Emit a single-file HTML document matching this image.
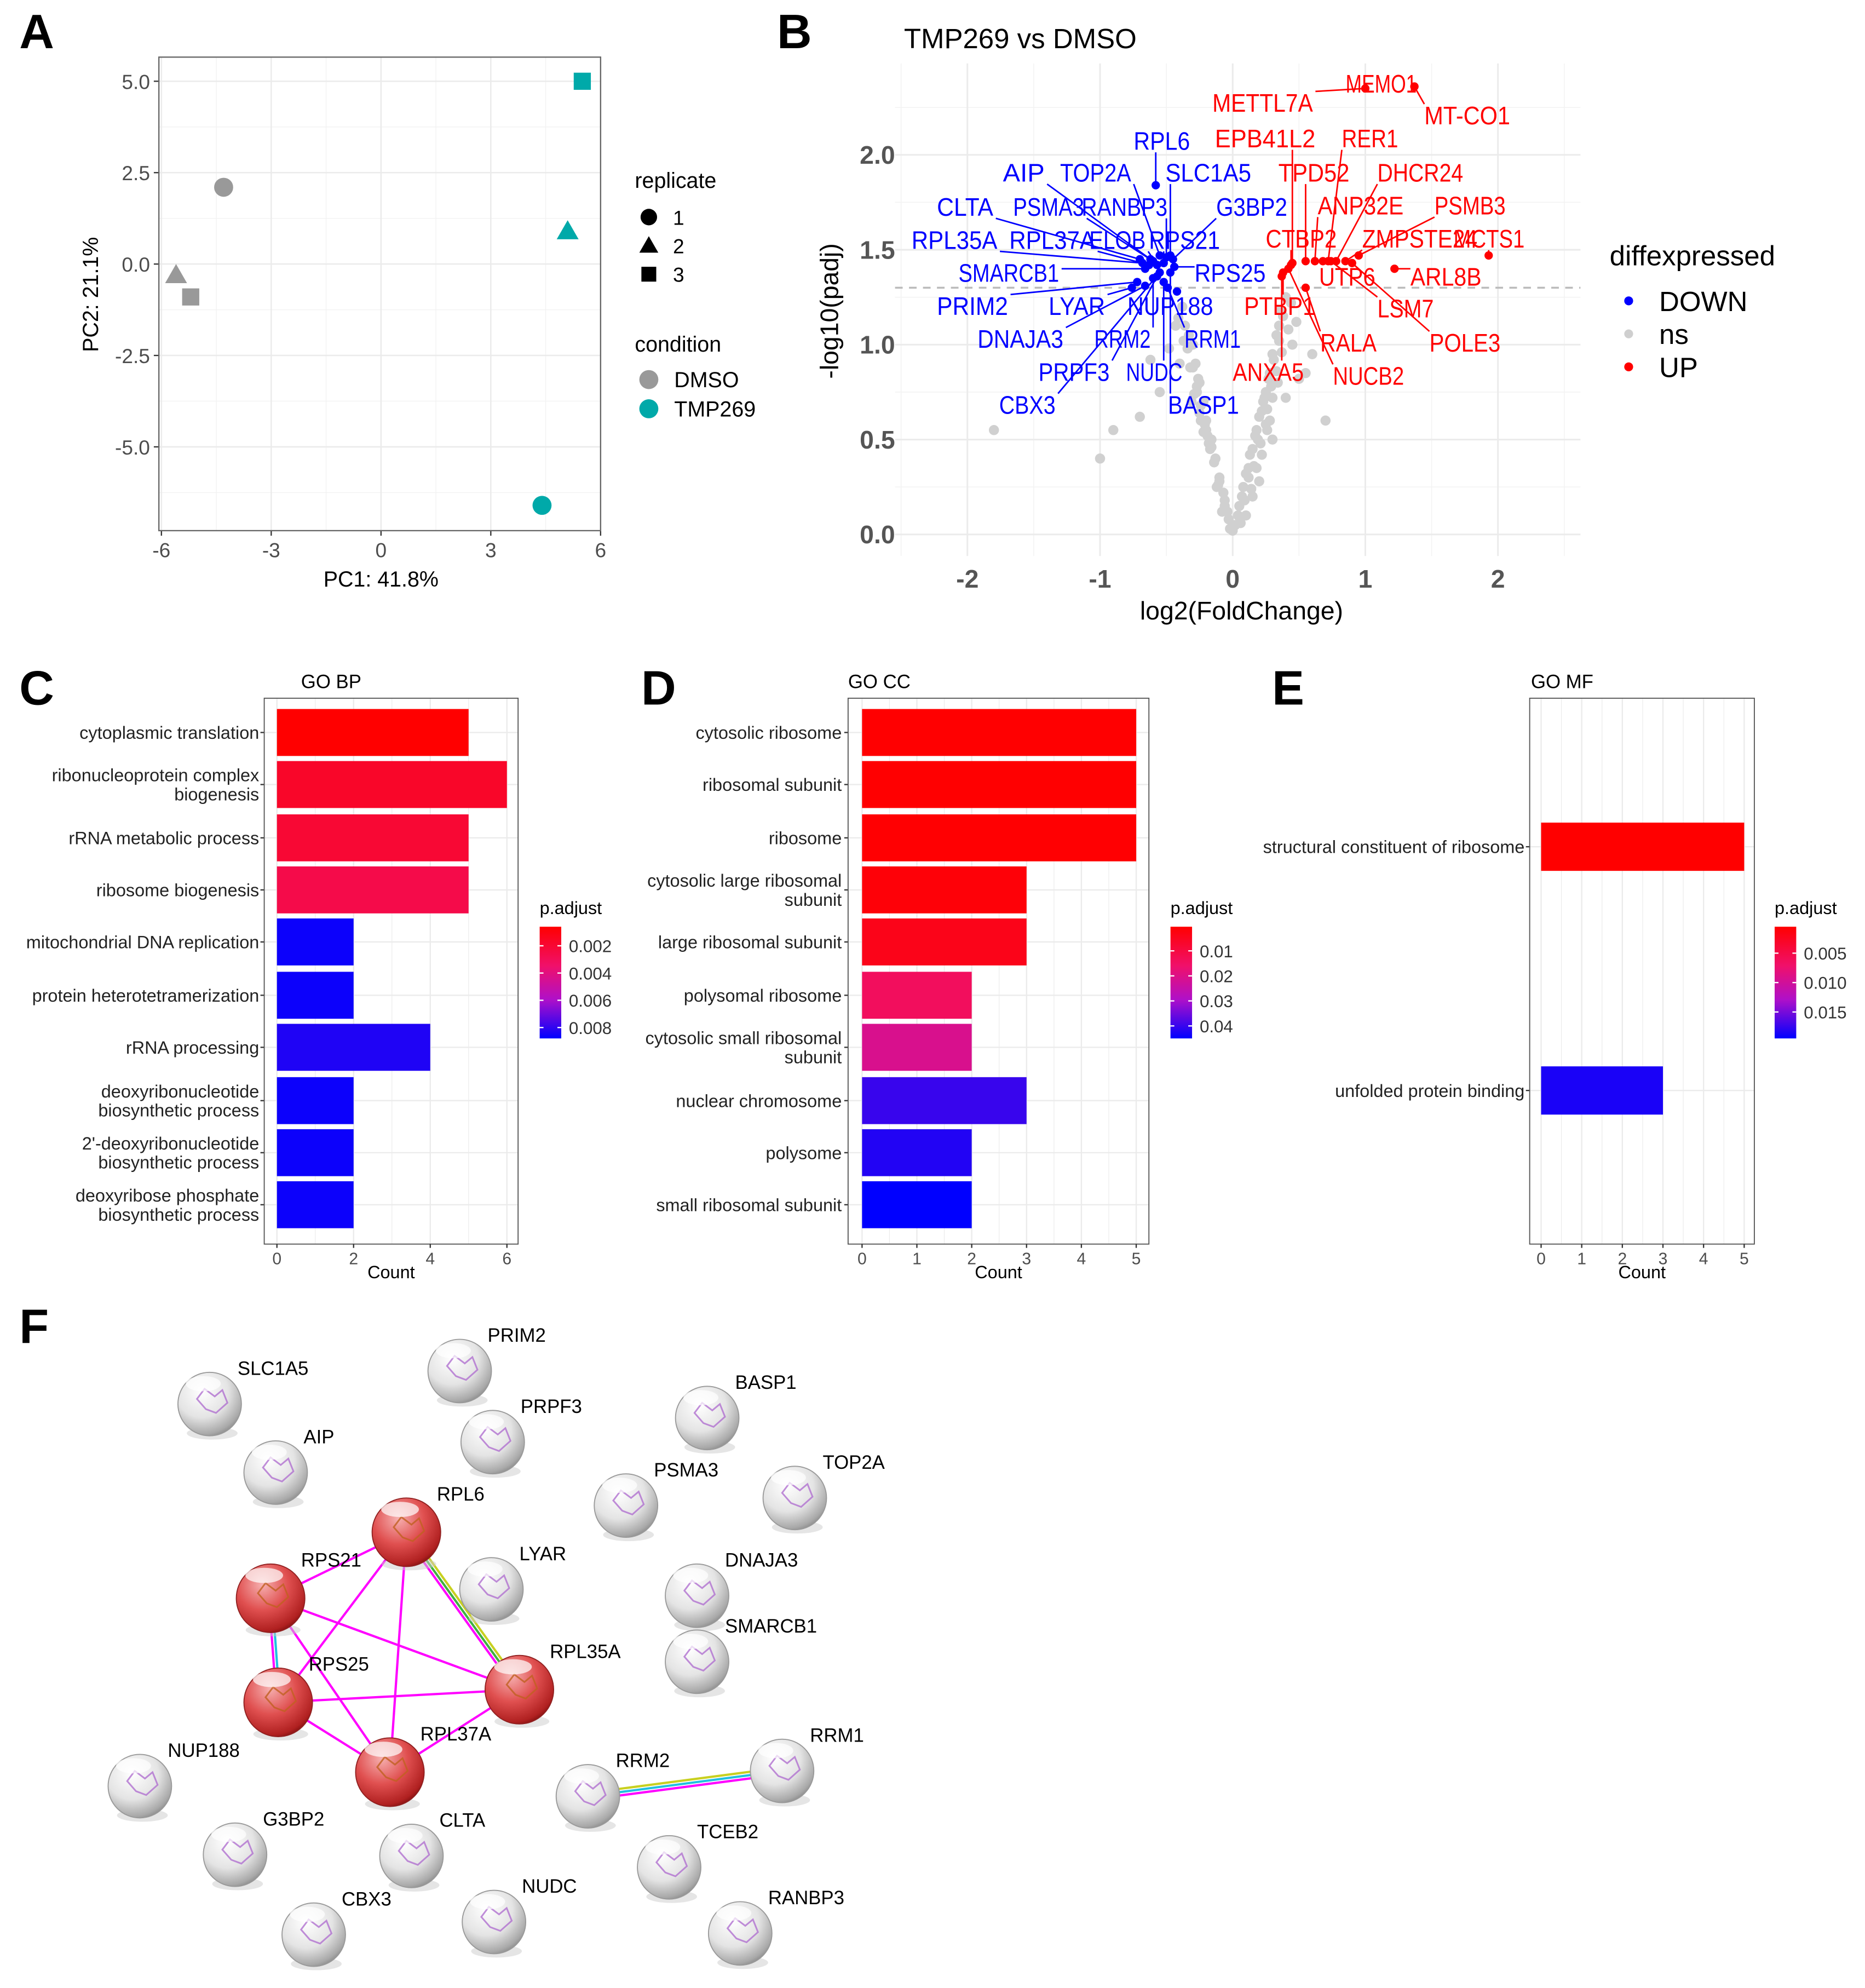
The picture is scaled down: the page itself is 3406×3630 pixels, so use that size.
<!DOCTYPE html>
<html><head><meta charset="utf-8"><style>
html,body{margin:0;padding:0;background:#fff}
svg{display:block}
text{font-family:"Liberation Sans",Arial,sans-serif}
</style></head><body>
<svg id="fig" width="3406" height="3630" viewBox="0 0 1469 1566" xmlns="http://www.w3.org/2000/svg">
<defs>
<radialGradient id="gs" cx="0.38" cy="0.3" r="0.75"><stop offset="0" stop-color="#ffffff"/><stop offset="0.55" stop-color="#e4e4e4"/><stop offset="0.9" stop-color="#a8a8a8"/><stop offset="1" stop-color="#8a8a8a"/></radialGradient>
<radialGradient id="rs" cx="0.38" cy="0.3" r="0.75"><stop offset="0" stop-color="#f6b0b0"/><stop offset="0.5" stop-color="#e05050"/><stop offset="0.9" stop-color="#b02020"/><stop offset="1" stop-color="#801010"/></radialGradient>
<linearGradient id="cbar" x1="0" y1="0" x2="0" y2="1"><stop offset="0" stop-color="#ff0000"/><stop offset="0.35" stop-color="#f0106a"/><stop offset="0.65" stop-color="#b010c8"/><stop offset="1" stop-color="#0000ff"/></linearGradient>
</defs>
<g id="root"></g>
</svg>
<script>
// ---------- DATA ----------
const pcaPC1 = [-4.3, -5.6, -5.2, 5.5, 5.1, 4.4];
const pcaPC2 = [2.1, -0.3, -0.9, 5.0, 0.9, -6.6];
const pcaCond = ["DMSO","DMSO","DMSO","TMP269","TMP269","TMP269"];
const pcaRep = [1,2,3,3,2,1];
const pcaXTicks = [-6,-3,0,3,6];
const pcaYTicks = [5.0,2.5,0.0,-2.5,-5.0];
const downGenes = ["RPL6","AIP","TOP2A","SLC1A5","CLTA","PSMA3","RANBP3","G3BP2","RPL35A","RPL37A","ELOB","RPS21","SMARCB1","RPS25","PRIM2","LYAR","NUP188","DNAJA3","RRM2","RRM1","PRPF3","NUDC","CBX3","BASP1"];
const downLFC = [-0.58,-0.62,-0.55,-0.47,-0.70,-0.60,-0.50,-0.45,-0.68,-0.63,-0.57,-0.52,-0.66,-0.44,-0.72,-0.76,-0.42,-0.66,-0.60,-0.49,-0.57,-0.52,-0.55,-0.47];
const downP = [1.84,1.45,1.47,1.47,1.45,1.44,1.46,1.45,1.43,1.42,1.42,1.43,1.40,1.41,1.33,1.30,1.28,1.31,1.35,1.30,1.36,1.33,1.38,1.38];
const upGenes = ["METTL7A","MEMO1","MT-CO1","EPB41L2","RER1","TPD52","DHCR24","ANP32E","PSMB3","CTBP2","ZMPSTE24","MCTS1","UTP6","ARL8B","PTBP1","LSM7","RALA","POLE3","ANXA5","NUCB2"];
const upLFC = [1.0,1.37,1.37,0.45,0.72,0.55,0.78,0.62,0.95,0.44,0.85,1.93,0.68,1.22,0.38,0.74,0.55,0.90,0.37,0.42];
const upP = [2.35,2.36,2.36,1.43,1.44,1.44,1.44,1.44,1.47,1.42,1.44,1.47,1.44,1.40,1.38,1.44,1.30,1.43,1.36,1.40];
const nsLFC = [0.02,-0.03,0.05,-0.06,0.08,-0.1,0.12,-0.13,0.15,-0.16,0.18,-0.2,0.22,-0.22,0.25,-0.25,0.28,-0.28,0.3,-0.3,0.33,-0.33,0.35,-0.36,0.38,-0.38,0.28,-0.2,0.15,-0.12,0.4,-0.4,0.22,0.3,-0.27,0.1,-0.08,0.45,-0.43,0.18,0.2,-0.17,0.26,-0.24,0.34,-0.31,-0.55,-0.7,-0.9,-1.0,-1.8,0.55,0.6,0.7,-0.62,0.48,0.5,-0.48,0.36,0.4,
 0.0,0.04,-0.04,0.07,-0.07,0.1,-0.1,0.13,-0.14,0.17,-0.18,0.2,-0.21,0.24,-0.24,0.27,-0.27,0.31,-0.32,0.35,-0.34,0.12,-0.16,0.19,-0.23,0.26,-0.29,0.33,-0.26,0.23,0.09,-0.06,0.16,-0.19,0.29,0.37,-0.37,0.42,-0.41,0.44,0.21,-0.25,0.3,-0.3,0.25,-0.22,0.14,-0.11,0.06,-0.02];
const nsP = [0.05,0.08,0.15,0.18,0.25,0.3,0.35,0.4,0.45,0.5,0.55,0.6,0.65,0.7,0.75,0.8,0.85,0.9,0.95,1.0,1.05,1.05,1.1,1.1,1.15,1.2,0.6,0.55,0.2,0.25,1.25,0.9,0.42,0.5,0.75,0.1,0.12,1.0,1.1,0.35,0.28,0.45,0.55,0.6,0.8,0.7,0.75,0.62,0.55,0.4,0.55,0.85,0.95,0.6,0.92,1.12,0.82,0.98,1.18,0.72,
 0.02,0.1,0.12,0.2,0.22,0.32,0.28,0.42,0.38,0.52,0.48,0.62,0.58,0.72,0.68,0.82,0.78,0.92,0.88,1.02,0.98,0.3,0.46,0.5,0.6,0.66,0.74,0.86,0.82,0.7,0.18,0.15,0.36,0.52,0.78,0.96,1.02,1.08,1.14,1.22,0.48,0.64,0.72,0.88,0.58,0.54,0.24,0.26,0.06,0.03];
const volXTicks = [-2,-1,0,1,2];
const volYTicks = [0.0,0.5,1.0,1.5,2.0];
const bpTerms = [["cytoplasmic translation"],["ribonucleoprotein complex","biogenesis"],["rRNA metabolic process"],["ribosome biogenesis"],["mitochondrial DNA replication"],["protein heterotetramerization"],["rRNA processing"],["deoxyribonucleotide","biosynthetic process"],["2'-deoxyribonucleotide","biosynthetic process"],["deoxyribose phosphate","biosynthetic process"]];
const bpCount = [5,6,5,5,2,2,4,2,2,2];
const bpPadj = [0.0006,0.0017,0.0020,0.0026,0.0086,0.0086,0.0083,0.0086,0.0086,0.0086];
const bpTicks = [0,2,4,6];
const bpLegend = [0.002,0.004,0.006,0.008];
const ccTerms = [["cytosolic ribosome"],["ribosomal subunit"],["ribosome"],["cytosolic large ribosomal","subunit"],["large ribosomal subunit"],["polysomal ribosome"],["cytosolic small ribosomal","subunit"],["nuclear chromosome"],["polysome"],["small ribosomal subunit"]];
const ccCount = [5,5,5,3,3,2,2,3,2,2];
const ccPadj = [0.0005,0.0005,0.0006,0.0015,0.004,0.014,0.021,0.040,0.042,0.045];
const ccTicks = [0,1,2,3,4,5];
const ccLegend = [0.01,0.02,0.03,0.04];
const mfTerms = [["structural constituent of ribosome"],["unfolded protein binding"]];
const mfCount = [5,3];
const mfPadj = [0.0005,0.0185];
const mfTicks = [0,1,2,3,4,5];
const mfLegend = [0.005,0.010,0.015];
const netNodes = ["SLC1A5","AIP","PRIM2","PRPF3","BASP1","TOP2A","PSMA3","RPL6","LYAR","RPS21","DNAJA3","SMARCB1","RPL35A","RPS25","RPL37A","NUP188","RRM2","RRM1","G3BP2","CLTA","TCEB2","NUDC","CBX3","RANBP3"];
const netRed = ["RPL6","RPS21","RPL35A","RPS25","RPL37A"];
const netEdges = [["RPL6","RPS21"],["RPL6","RPS25"],["RPL6","RPL35A"],["RPL6","RPL37A"],["RPS21","RPS25"],["RPS21","RPL35A"],["RPS21","RPL37A"],["RPS25","RPL35A"],["RPS25","RPL37A"],["RPL35A","RPL37A"],["RRM2","RRM1"]];

// ---------- LAYOUT ----------
const downLabelPos = [[893,118],[790,143],[835,143],[918,143],[738,170],[798,170],[852,170],[958,170],[718,196],[795,196],[858,196],[905,196],[755,222],[941,222],[738,248],[826,248],[888,248],[770,274],[862,274],[933,274],[818,300],[887,300],[787,326],[920,326]];
const upLabelPos = [[955,88],[1060,73],[1122,98],[957,116],[1057,116],[1007,143],[1085,143],[1038,169],[1130,169],[997,195],[1073,195],[1145,195],[1039,225],[1111,225],[980,248],[1085,250],[1040,277],[1126,277],[971,300],[1050,303]];
const netPos = [[165,1106],[217,1160],[362,1080],[388,1136],[557,1117],[626,1180],[493,1186],[320,1207],[387,1252],[213,1259],[549,1257],[549,1309],[409,1331],[219,1341],[307,1396],[110,1407],[463,1415],[616,1395],[185,1461],[324,1462],[527,1471],[389,1514],[247,1524],[583,1523]];

// ---------- HELPERS ----------
const NS="http://www.w3.org/2000/svg";
const root=document.getElementById('root');
function mk(tag,attrs,parent){const e=document.createElementNS(NS,tag);for(const k in attrs)e.setAttribute(k,attrs[k]);(parent||root).appendChild(e);return e;}
function txt(s,attrs,parent){const e=mk('text',attrs,parent);e.textContent=s;return e;}
function lerp(a,b,t){return a+(b-a)*t}
function pcol(t){t=Math.max(0,Math.min(1,t));const st=[[0,[255,0,0]],[0.35,[240,16,106]],[0.65,[176,16,200]],[1,[0,0,255]]];for(let i=0;i<st.length-1;i++){if(t<=st[i+1][0]){const u=(t-st[i][0])/(st[i+1][0]-st[i][0]);const c=st[i][1].map((v,j)=>Math.round(lerp(v,st[i+1][1][j],u)));return `rgb(${c})`;}}return 'rgb(0,0,255)';}

[["A",15,38],["B",612,38],["C",15,555],["D",505,555],["E",1002,555],["F",15,1058]].forEach(p=>{
  const t=txt(p[0],{x:p[1],y:p[2],'font-size':38,'font-weight':'bold',fill:'#000'});
  
  
});

// ---------- PANEL A ----------
(function(){
  const g=mk('g',{});
  
  
  const x0=125,x1=473,y0=45,y1=418;
  const sx=v=>127+(v+6)*(346/12), sy=v=>208-v*28.8;
  const panel=mk('rect',{x:x0,y:y0,width:x1-x0,height:y1-y0,fill:'#fff'},g);
  
  
  [-4.5,-1.5,1.5,4.5].forEach(v=>mk('line',{x1:sx(v),x2:sx(v),y1:y0,y2:y1,stroke:'#f2f2f2','stroke-width':0.6},g));
  [3.75,1.25,-1.25,-3.75,-6.25].forEach(v=>mk('line',{x1:x0,x2:x1,y1:sy(v),y2:sy(v),stroke:'#f2f2f2','stroke-width':0.6},g));
  pcaXTicks.forEach(v=>{mk('line',{x1:sx(v),x2:sx(v),y1:y0,y2:y1,stroke:'#ebebeb','stroke-width':1.1},g);mk('line',{x1:sx(v),x2:sx(v),y1:y1,y2:y1+4,stroke:'#333'},g);
    const t=txt(String(v),{x:sx(v),y:y1+21,'font-size':16,fill:'#4d4d4d','text-anchor':'middle'},g);
     });
  pcaYTicks.forEach(v=>{mk('line',{x1:x0,x2:x1,y1:sy(v),y2:sy(v),stroke:'#ebebeb','stroke-width':1.1},g);mk('line',{x1:x0-4,x2:x0,y1:sy(v),y2:sy(v),stroke:'#333'},g);
    const t=txt(v.toFixed(1),{x:x0-7,y:sy(v)+6,'font-size':16,fill:'#4d4d4d','text-anchor':'end'},g);
     });
  mk('rect',{x:x0,y:y0,width:x1-x0,height:y1-y0,fill:'none',stroke:'#666','stroke-width':1},g);
  const xl=txt('PC1: 41.8%',{x:300,y:462,'font-size':17,fill:'#000','text-anchor':'middle'},g);
   
  const yl=txt('PC2: 21.1%',{x:0,y:0,'font-size':17,fill:'#000','text-anchor':'middle',transform:'translate(77,232) rotate(-90)'},g);
   
  function shape(rep,cx,cy,col,size,parent){
    if(rep===1) return mk('circle',{cx,cy,r:size,fill:col},parent);
    if(rep===2) return mk('polygon',{points:`${cx},${cy-size*1.15} ${cx-size*1.15},${cy+size*0.85} ${cx+size*1.15},${cy+size*0.85}`,fill:col},parent);
    return mk('rect',{x:cx-size*0.9,y:cy-size*0.9,width:size*1.8,height:size*1.8,fill:col},parent);
  }
  pcaPC1.forEach((v,i)=>{
    const col=pcaCond[i]==='DMSO'?'#999999':'#00a9a9';
    const s=shape(pcaRep[i],sx(v),sy(pcaPC2[i]),col,7.5,g);
    
    
  });
  const lg=mk('g',{},g);
  
  
  txt('replicate',{x:500,y:148,'font-size':17},lg);
  [1,2,3].forEach((r,i)=>{shape(r,511,171+i*22.5,'#000',6.5,lg);txt(String(r),{x:530,y:177+i*22.5,'font-size':16},lg);});
  txt('condition',{x:500,y:277,'font-size':17},lg);
  ['DMSO','TMP269'].forEach((c,i)=>{mk('circle',{cx:511,cy:299+i*23,r:7.5,fill:i?'#00a9a9':'#999'},lg);txt(c,{x:531,y:305+i*23,'font-size':17},lg);});
})();

// ---------- PANEL B ----------
(function(){
  const g=mk('g',{});
  
  
  const x0=705,x1=1245,y0=50,y1=438;
  const sx=v=>971+v*104.5, sy=v=>421-v*149.5;
  const t=txt('TMP269 vs DMSO',{x:712,y:38,'font-size':22,fill:'#000'},g);
   
  [-2.5,-1.5,-0.5,0.5,1.5,2.5].forEach(v=>mk('line',{x1:sx(v),x2:sx(v),y1:y0,y2:y1,stroke:'#f3f3f3','stroke-width':0.7},g));
  [0.25,0.75,1.25,1.75,2.25].forEach(v=>mk('line',{x1:x0,x2:x1,y1:sy(v),y2:sy(v),stroke:'#f3f3f3','stroke-width':0.7},g));
  volXTicks.forEach(v=>{mk('line',{x1:sx(v),x2:sx(v),y1:y0,y2:y1,stroke:'#ebebeb','stroke-width':1.3},g);
    const tt=txt(String(v),{x:sx(v),y:463,'font-size':20,'font-weight':'bold',fill:'#555','text-anchor':'middle'},g);
     });
  volYTicks.forEach(v=>{mk('line',{x1:x0,x2:x1,y1:sy(v),y2:sy(v),stroke:'#ebebeb','stroke-width':1.3},g);
    const tt=txt(v.toFixed(1),{x:705,y:sy(v)+7,'font-size':20,'font-weight':'bold',fill:'#555','text-anchor':'end'},g);
     });
  const xl=txt('log2(FoldChange)',{x:978,y:488,'font-size':20,fill:'#000','text-anchor':'middle'},g);
   
  const yl=txt('-log10(padj)',{x:0,y:0,'font-size':20,fill:'#000','text-anchor':'middle',transform:'translate(660,245) rotate(-90)'},g);
   
  const thr=mk('line',{x1:x0,x2:x1,y1:sy(1.3),y2:sy(1.3),stroke:'#bbb','stroke-width':1.5,'stroke-dasharray':'6,5'},g);
   
  nsLFC.forEach((v,i)=>{const c=mk('circle',{cx:sx(v),cy:sy(nsP[i]),r:4,fill:'#d0d0d0'},g);
     });
  function series(names,lfc,p,pos,col){
    names.forEach((n,i)=>{
      const px=sx(lfc[i]),py=sy(p[i]);
      const lx=pos[i][0],ly=pos[i][1];
      const w=n.length*11.6;
      const ax=px<lx?lx:(px>lx+w?lx+w:px);
      const ay=py<ly-16?ly-16:(py>ly+2?ly+2:py);
      mk('line',{x1:px,y1:py,x2:ax,y2:ay,stroke:col,'stroke-width':1.2},g);
      const c=mk('circle',{cx:px,cy:py,r:3.3,fill:col},g);
       
      const t=txt(n,{x:lx,y:ly,'font-size':20,fill:col,textLength:w-2,lengthAdjust:'spacingAndGlyphs'},g);
       
    });
  }
  series(downGenes,downLFC,downP,downLabelPos,'#0000ff');
  series(upGenes,upLFC,upP,upLabelPos,'#ff0000');
  const lg=mk('g',{},g);
   
  txt('diffexpressed',{x:1268,y:209,'font-size':22},lg);
  [['DOWN','#0000ff'],['ns','#cfcfcf'],['UP','#ff0000']].forEach((d,i)=>{mk('circle',{cx:1283,cy:237+i*26,r:3.5,fill:d[1]},lg);txt(d[0],{x:1307,y:245+i*26,'font-size':22},lg);});
})();

// ---------- GO BAR PANELS ----------
function goPanel(key,title,terms,counts,padj,ticks,legendTicks,cfg){
  const g=mk('g',{});
   
  const {x0,x1,zero,unit,centers,bh,pmin,pmax,cbx,labelX}=cfg;
  const y0=550,y1=980;
  const sx=v=>zero+v*unit;
  mk('rect',{x:x0,y:y0,width:x1-x0,height:y1-y0,fill:'#fff'},g);
  for(let v=ticks[0];v<=ticks[ticks.length-1];v+=(ticks[1]-ticks[0])/2) mk('line',{x1:sx(v),x2:sx(v),y1:y0,y2:y1,stroke:'#ebebeb','stroke-width':v%(ticks[1]-ticks[0])===0?1:0.5},g);
  centers.forEach(c=>mk('line',{x1:x0,x2:x1,y1:c,y2:c,stroke:'#ebebeb','stroke-width':1},g));
  const tt=txt(title,{x:cfg.titleX,y:542,'font-size':15,fill:'#000'},g);
   
  counts.forEach((c,i)=>{
    const t=(padj[i]-pmin)/(pmax-pmin);
    const r=mk('rect',{x:sx(0),y:centers[i]-bh/2,width:sx(c)-sx(0),height:bh,fill:pcol(t)},g);
     
    const lines=terms[i];
    lines.forEach((ln,j)=>{const tl=txt(ln,{x:labelX,y:centers[i]+5+(j-(lines.length-1)/2)*15,'font-size':14,fill:'#222','text-anchor':'end'},g);
       });
    mk('line',{x1:x0-3,x2:x0,y1:centers[i],y2:centers[i],stroke:'#333'},g);
  });
  mk('rect',{x:x0,y:y0,width:x1-x0,height:y1-y0,fill:'none',stroke:'#555','stroke-width':0.8},g);
  ticks.forEach(v=>{mk('line',{x1:sx(v),x2:sx(v),y1:y1,y2:y1+3,stroke:'#333'},g);
    const t=txt(String(v),{x:sx(v),y:y1+16,'font-size':13,fill:'#4d4d4d','text-anchor':'middle'},g);
     });
  const xl=txt('Count',{x:(x0+x1)/2,y:1007,'font-size':14,fill:'#000','text-anchor':'middle'},g);
   
  const lg=mk('g',{},g);
   
  txt('p.adjust',{x:cbx,y:720,'font-size':14},lg);
  mk('rect',{x:cbx,y:730,width:17,height:88,fill:'url(#cbar)'},lg);
  legendTicks.forEach(v=>{const y=730+(v-pmin)/(pmax-pmin)*88;
    mk('line',{x1:cbx,x2:cbx+3,y1:y,y2:y,stroke:'#fff'},lg);mk('line',{x1:cbx+14,x2:cbx+17,y1:y,y2:y,stroke:'#fff'},lg);
    txt(String(v.toFixed(legendTicks[0]<0.01?3:2)),{x:cbx+23,y:y+5,'font-size':13.5,fill:'#333'},lg);});
}
const tenC=[577,618,660,701,742,784,825,867,908,949];
goPanel('go-bp','GO BP',bpTerms,bpCount,bpPadj,bpTicks,bpLegend,{x0:208,x1:408,zero:218,unit:30.2,centers:tenC,bh:37,pmin:0.0006,pmax:0.0088,cbx:425,labelX:204,titleX:237});
goPanel('go-cc','GO CC',ccTerms,ccCount,ccPadj,ccTicks,ccLegend,{x0:668,x1:905,zero:679,unit:43.2,centers:tenC,bh:37,pmin:0.00035,pmax:0.045,cbx:922,labelX:663,titleX:668});
goPanel('go-mf','GO MF',mfTerms,mfCount,mfPadj,mfTicks,mfLegend,{x0:1205,x1:1382,zero:1214,unit:32,centers:[667,859],bh:38,pmin:0.0005,pmax:0.0195,cbx:1398,labelX:1201,titleX:1206});

// ---------- PANEL F ----------
(function(){
  const g=mk('g',{});
   
  const P={}; netNodes.forEach((n,i)=>P[n]=netPos[i]);
  netEdges.forEach(e=>{
    const a=P[e[0]],b=P[e[1]];
    const special=(e[0]==='RPS21'&&e[1]==='RPS25')?['#20c0e0','#ff00ff']:(e[0]==='RPL6'&&e[1]==='RPL35A')?['#c8d020','#40b040','#ff00ff']:(e[0]==='RRM2')?['#c8d020','#20c0e0','#ff00ff']:['#ff00ff'];
    const dx=b[0]-a[0],dy=b[1]-a[1],L=Math.hypot(dx,dy),nx=-dy/L,ny=dx/L;
    special.forEach((c,k)=>{const o=(k-(special.length-1)/2)*2.6;
      const l=mk('line',{x1:a[0]+nx*o,y1:a[1]+ny*o,x2:b[0]+nx*o,y2:b[1]+ny*o,stroke:c,'stroke-width':1.8},g);
       });
  });
  netNodes.forEach((n,i)=>{
    const [cx,cy]=netPos[i];
    const red=netRed.includes(n);
    const r=red?27:25;
    const ng=mk('g',{},g);
     
    mk('ellipse',{cx:cx+2,cy:cy+r-2,rx:r*0.8,ry:5,fill:'#ccc',opacity:0.5},ng);
    mk('circle',{cx,cy,r,fill:red?'url(#rs)':'url(#gs)',stroke:red?'#902020':'#999','stroke-width':0.8},ng);
    mk('path',{d:`M${cx-10},${cy-4} l6,-8 l8,6 l6,-5 l4,10 l-9,8 l-8,-3 z`,fill:'none',stroke:red?'#c06020':'#b070d0','stroke-width':1.3,opacity:0.8},ng);
    mk('ellipse',{cx:cx-5,cy:cy-r+9,rx:r*0.55,ry:6,fill:'#fff',opacity:0.7},ng);
    const t=txt(n,{x:cx+r-3,y:cy-r+2,'font-size':15,fill:'#000'},ng);
     
  });
})();
</script>
</body></html>
